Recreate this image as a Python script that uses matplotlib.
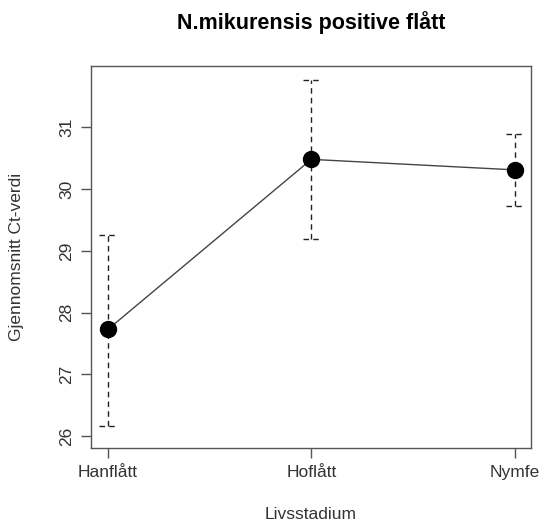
import matplotlib.pyplot as plt

stadier = ["Hanflått", "Hoflått", "Nymfe"]
snitt = [27.73, 30.48, 30.31]
ovre = [29.25, 31.76, 30.89]
nedre = [26.16, 29.19, 29.73]

plt.rcParams['font.family'] = ['Liberation Sans', 'DejaVu Sans']
tekst = '#333333'

fig = plt.figure(figsize=(5.41, 5.24), dpi=100)
ax = fig.add_axes([0.168, 0.145, 0.813, 0.729])

x = list(range(1, len(stadier) + 1))

# Error bars (dashed, with dashed caps)
ax.vlines(x, nedre, ovre, colors='#222222', linestyles=(0, (4, 3)), linewidth=1)
cap = 0.042
ax.hlines(ovre, [v - cap for v in x], [v + cap for v in x], colors='#222222',
          linestyles=(0, (4, 3)), linewidth=1)
ax.hlines(nedre, [v - cap for v in x], [v + cap for v in x], colors='#222222',
          linestyles=(0, (4, 3)), linewidth=1)

# Means
ax.plot(x, snitt, color='#444444', linewidth=1, marker='o', markersize=11.5,
        markerfacecolor='black', markeredgecolor='black')

ax.set_xlim(0.916, 3.079)
ax.set_ylim(25.81, 31.99)
ax.set_xticks(x)
ax.set_xticklabels(stadier, fontsize=12.5, color=tekst)
ax.set_yticks([26, 27, 28, 29, 30, 31])
ax.set_yticklabels(['26', '27', '28', '29', '30', '31'], fontsize=12.5, color=tekst,
                   rotation=90, va='center')
ax.tick_params(axis='both', length=7, width=1, color='#555555', pad=5)
for s in ax.spines.values():
    s.set_color('#555555')
    s.set_linewidth(1)

ax.set_xlabel("Livsstadium", fontsize=12.5, color=tekst)
ax.set_ylabel("Gjennomsnitt Ct-verdi", fontsize=12.5, color=tekst)
ax.xaxis.set_label_coords(0.5, -0.175)
ax.yaxis.set_label_coords(-0.170, 0.5)
ax.xaxis.label.set_va('center')
ax.yaxis.label.set_va('center')
fig.text(0.575, 0.958, "N.mikurensis positive flått", fontsize=15.5,
         fontweight='bold', color='black', ha='center', va='center')

plt.savefig("out.png")
plt.close()
